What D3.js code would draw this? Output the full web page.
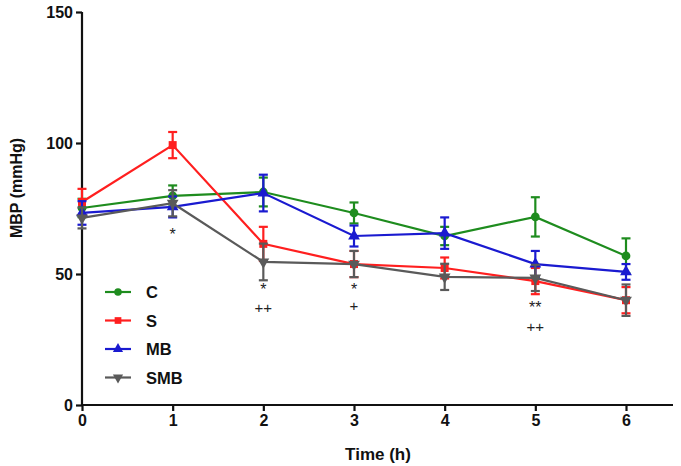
<!DOCTYPE html>
<html><head><meta charset="utf-8">
<script src="https://cdn.jsdelivr.net/npm/d3@7"></script>
<style>body{margin:0;background:#fff}svg{display:block}text{font-family:"Liberation Sans",Arial,sans-serif;font-weight:bold}</style>
</head><body><svg id="c" width="681" height="466"></svg>
<script>
const times = [0,1,2,3,4,5,6];
const xTicks = [0,1,2,3,4,5,6];
const yTicks = [0,50,100,150];
const seriesNames = ["C","S","MB","SMB"];
const seriesColors = ["#1e8c1e","#ff1f1f","#1a1ad0","#5a5a5a"];
const cMean = [75.2,79.8,81.3,73.3,64.5,71.8,56.9];
const cErr  = [3.5,4,5.5,4,3.5,7.5,6.7];
const sMean = [77.5,99.2,61.5,53.8,52.3,47.3,40.0];
const sErr  = [5,5,6.5,5,4,5,5];
const mbMean = [73.3,75.6,80.9,64.5,65.6,53.8,50.8];
const mbErr  = [4.5,4,7,4,6,5,3];
const smbMean = [71.4,77,54.6,53.8,48.9,48.5,40.0];
const smbErr  = [4,5,7,5,5,5,6];
const annotations = [
  {t:1, text:"*", v:63},
  {t:2, text:"*", v:42},
  {t:2, text:"++", v:35},
  {t:3, text:"*", v:42},
  {t:3, text:"+", v:36},
  {t:5, text:"**", v:35},
  {t:5, text:"++", v:28}
];
const means=[cMean,sMean,mbMean,smbMean], errs=[cErr,sErr,mbErr,smbErr];
const shapes=[d3.symbolCircle,d3.symbolSquare,d3.symbolTriangle,d3.symbolTriangle];

const svg=d3.select("#c");
const x=d3.scaleLinear().domain([0,6]).range([82,626]);
const y=d3.scaleLinear().domain([0,150]).range([405,12]);

// axes
const xa=svg.append("g").attr("transform","translate(0,405)")
 .call(d3.axisBottom(x).tickValues(xTicks).tickSize(6).tickPadding(4).tickFormat(d3.format("d")));
xa.select(".domain").attr("d","M82,0H673");
const ya=svg.append("g").attr("transform","translate(82,0)")
 .call(d3.axisLeft(y).tickValues(yTicks).tickSize(6).tickPadding(3));
ya.select(".domain").attr("d","M0,405V12");
svg.selectAll(".domain").attr("stroke","#111").attr("stroke-width",2.2);
svg.selectAll(".tick line").attr("stroke","#111").attr("stroke-width",2.2);
svg.selectAll(".tick text").attr("font-size",16).attr("fill","#111").style("font-weight","bold");

svg.append("text").attr("x",378).attr("y",460).attr("text-anchor","middle").attr("font-size",17).attr("fill","#111").text("Time (h)");
svg.append("text").attr("transform","translate(22,188) rotate(-90)").attr("text-anchor","middle").attr("font-size",16).attr("fill","#111").text("MBP (mmHg)");

const line=d3.line().x((d,i)=>x(times[i])).y(d=>y(d));
means.forEach((m,k)=>{
  const g=svg.append("g");
  const col=seriesColors[k];
  g.append("path").attr("d",line(m)).attr("fill","none").attr("stroke",col).attr("stroke-width",2.2);
  m.forEach((v,i)=>{
    const cx=x(times[i]), e=errs[k][i];
    const y1=y(v+e), y2=y(v-e);
    g.append("line").attr("x1",cx).attr("x2",cx).attr("y1",y1).attr("y2",y2).attr("stroke",col).attr("stroke-width",2.2);
    [y1,y2].forEach(yy=>g.append("line").attr("x1",cx-4.5).attr("x2",cx+4.5).attr("y1",yy).attr("y2",yy).attr("stroke",col).attr("stroke-width",2.2));
    const sym=d3.symbol().type(shapes[k]).size(k===1?64:60);
    g.append("path").attr("d",sym()).attr("fill",col)
     .attr("transform",`translate(${cx},${y(v)})`+(k===3?" rotate(180)":""));
  });
});

// annotations
annotations.forEach(a=>{
  svg.append("text").attr("x",x(a.t)).attr("y",y(a.v)).attr("text-anchor","middle")
   .attr("font-size",a.text.includes("*")?16:15).attr("fill","#222").style("font-weight","normal").text(a.text);
});

// legend
seriesNames.forEach((n,k)=>{
  const ly=292+k*28.5, col=seriesColors[k];
  svg.append("line").attr("x1",105).attr("x2",131).attr("y1",ly).attr("y2",ly).attr("stroke",col).attr("stroke-width",2.2);
  svg.append("path").attr("d",d3.symbol().type(shapes[k]).size(45)()).attr("fill",col)
   .attr("transform",`translate(118,${ly})`+(k===3?" rotate(180)":""));
  svg.append("text").attr("x",146).attr("y",ly+6).attr("font-size",16.5).attr("fill","#111").text(n);
});
</script></body></html>
